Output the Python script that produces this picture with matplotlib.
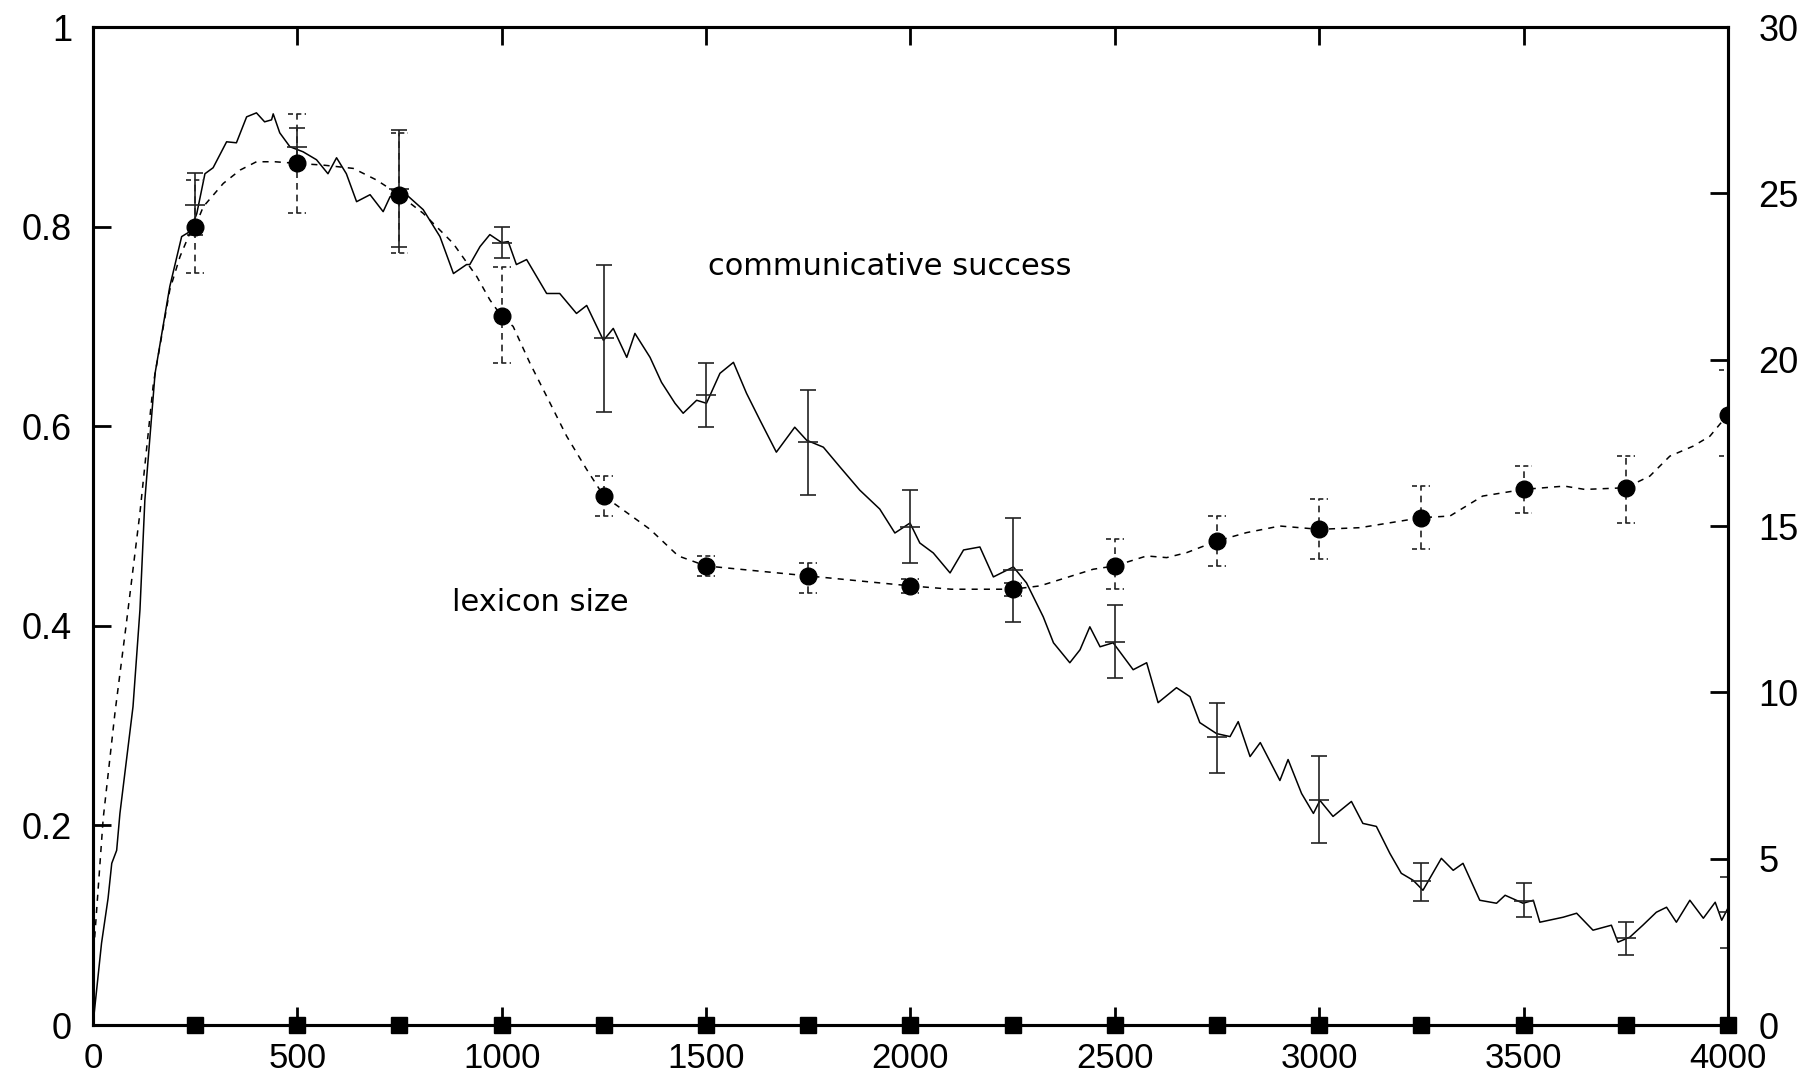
import numpy as np
import matplotlib
matplotlib.use("Agg")
import matplotlib.pyplot as plt

# communicative success (left axis)
cs_x = [0, 21, 37, 46, 58, 66, 98, 115, 127, 152, 188, 217, 237, 254, 274, 294, 327, 351,
        376, 400, 420, 437, 441, 457, 482, 514, 547, 575, 596, 620, 645, 678, 710, 727,
        767, 808, 849, 882, 914, 922, 947, 971, 1000, 1016, 1036, 1061, 1110, 1142, 1183,
        1208, 1249, 1273, 1306, 1326, 1363, 1391, 1424, 1444, 1477, 1501, 1534, 1567, 1599,
        1632, 1672, 1717, 1746, 1787, 1828, 1876, 1925, 1962, 1999, 2023, 2056, 2097, 2130,
        2170, 2203, 2252, 2284, 2325, 2350, 2390, 2415, 2439, 2464, 2496, 2545, 2578, 2606,
        2651, 2684, 2708, 2749, 2782, 2802, 2831, 2856, 2904, 2924, 2957, 2986, 3002, 3034,
        3079, 3107, 3140, 3173, 3201, 3230, 3254, 3299, 3328, 3352, 3393, 3434, 3455, 3499,
        3524, 3540, 3597, 3630, 3670, 3715, 3731, 3760, 3792, 3825, 3850, 3874, 3907, 3940,
        3969, 3985, 4000]
cs_y = [0.0, 0.082, 0.127, 0.162, 0.175, 0.212, 0.319, 0.416, 0.526, 0.653, 0.740, 0.790,
        0.795, 0.813, 0.853, 0.859, 0.885, 0.884, 0.910, 0.914, 0.905, 0.907, 0.913, 0.894,
        0.880, 0.875, 0.867, 0.853, 0.869, 0.853, 0.825, 0.832, 0.815, 0.830, 0.832, 0.817,
        0.790, 0.753, 0.762, 0.762, 0.780, 0.792, 0.784, 0.785, 0.762, 0.767, 0.733, 0.733,
        0.713, 0.721, 0.686, 0.698, 0.669, 0.693, 0.669, 0.644, 0.623, 0.613, 0.626, 0.623,
        0.653, 0.664, 0.633, 0.606, 0.574, 0.599, 0.586, 0.579, 0.559, 0.536, 0.517, 0.493,
        0.503, 0.483, 0.473, 0.453, 0.476, 0.479, 0.449, 0.459, 0.443, 0.409, 0.383, 0.363,
        0.376, 0.399, 0.379, 0.383, 0.356, 0.363, 0.323, 0.338, 0.329, 0.303, 0.292, 0.289,
        0.304, 0.269, 0.283, 0.245, 0.266, 0.232, 0.212, 0.225, 0.209, 0.224, 0.202, 0.199,
        0.172, 0.152, 0.145, 0.135, 0.167, 0.155, 0.162, 0.125, 0.122, 0.130, 0.122, 0.125,
        0.103, 0.108, 0.112, 0.095, 0.100, 0.083, 0.088, 0.100, 0.113, 0.118, 0.103, 0.125,
        0.107, 0.123, 0.105, 0.117]

# lexicon size (right axis), dashed curve
lex_x = [0, 25, 54, 82, 115, 148, 188, 213, 237, 250, 270, 319, 360, 400, 445, 500, 563, 637,
         694, 750, 808, 881, 939, 971, 1000, 1028, 1069, 1110, 1159, 1208, 1250, 1363, 1432,
         1500, 1625, 1750, 1875, 2000, 2100, 2250, 2317, 2382, 2447, 2500, 2578, 2627, 2676,
         2750, 2822, 2904, 3000, 3100, 3250, 3320, 3400, 3500, 3600, 3650, 3750, 3809, 3858,
         3915, 3956, 4000]
lex_y = [1.9, 6.2, 9.4, 12.1, 15.4, 19.3, 22.1, 23.1, 23.8, 24.0, 24.6, 25.3, 25.7, 25.95,
         25.95, 25.9, 25.85, 25.75, 25.4, 24.95, 24.4, 23.5, 22.5, 21.8, 21.3, 21.0, 19.9,
         18.9, 17.7, 16.7, 15.9, 14.9, 14.1, 13.8, 13.65, 13.5, 13.35, 13.2, 13.1, 13.1, 13.2,
         13.45, 13.7, 13.8, 14.1, 14.05, 14.2, 14.55, 14.8, 15.0, 14.9, 14.95, 15.25, 15.3,
         15.9, 16.1, 16.2, 16.1, 16.15, 16.5, 17.1, 17.4, 17.7, 18.35]

# sampled points every 250 games
steps = np.arange(250, 4001, 250)
lex_mean = [24.0, 25.9, 24.95, 21.3, 15.9, 13.8, 13.5, 13.2, 13.1, 13.8, 14.55, 14.9, 15.25,
            16.1, 16.15, 18.35]
lex_lo = [22.6, 24.4, 23.2, 19.9, 15.3, 13.5, 13.0, 13.0, 12.9, 13.1, 13.8, 14.0, 14.3,
          15.4, 15.1, 17.1]
lex_hi = [25.4, 27.4, 26.8, 22.8, 16.5, 14.1, 13.9, 13.4, 13.3, 14.6, 15.3, 15.8, 16.2,
          16.8, 17.1, 19.7]
cs_mean = [0.822, 0.880, 0.838, 0.784, 0.688, 0.631, 0.584, 0.499, 0.456, 0.384, 0.289,
           0.225, 0.144, 0.124, 0.087, 0.113]
cs_lo = [0.792, 0.864, 0.780, 0.769, 0.614, 0.599, 0.531, 0.463, 0.404, 0.348, 0.253,
         0.182, 0.124, 0.108, 0.070, 0.077]
cs_hi = [0.854, 0.899, 0.897, 0.800, 0.762, 0.663, 0.636, 0.536, 0.508, 0.421, 0.323,
         0.270, 0.162, 0.142, 0.103, 0.148]
third = [0] * 16

lex_mean = np.array(lex_mean)
cs_mean = np.array(cs_mean)

fig = plt.figure(figsize=(18.19, 10.81), dpi=100)
ax = fig.add_axes([0.0511, 0.0518, 0.8988, 0.9232])
ax2 = ax.twinx()

# communicative success
ax.plot(cs_x, cs_y, "-", color="black", lw=1.1)
ax.errorbar(steps, cs_mean, yerr=[cs_mean - np.array(cs_lo), np.array(cs_hi) - cs_mean],
            fmt="_", ms=15, mew=1.2, capsize=5.5, capthick=1.2, elinewidth=1.2,
            color="#222222")
ax.plot(steps, third, "s", ms=11, color="black", clip_on=False, zorder=10)

# lexicon size
ax2.plot(lex_x, lex_y, color="black", lw=1.1, ls=(0, (4, 4)))
ax2.vlines(steps, lex_lo, lex_hi, colors="#222222", lw=1.2, linestyles=(0, (4, 3)))
cap = 22
ax2.hlines(lex_lo, steps - cap, steps + cap, colors="#222222", lw=1.2, linestyles=(0, (3, 2)))
ax2.hlines(lex_hi, steps - cap, steps + cap, colors="#222222", lw=1.2, linestyles=(0, (3, 2)))
ax2.plot(steps, lex_mean, "o", ms=12, color="black", zorder=5)

ax.set_xlim(0, 4000)
ax.set_ylim(0, 1)
ax2.set_ylim(0, 30)
ax.set_xticks(np.arange(0, 4001, 500))
ax.set_yticks([0, 0.2, 0.4, 0.6, 0.8, 1.0])
ax.set_yticklabels(["0", "0.2", "0.4", "0.6", "0.8", "1"])
ax2.set_yticks(np.arange(0, 31, 5))

tick_font = "Liberation Sans"
ax.tick_params(direction="in", length=13, width=2, top=True, labelsize=25)
ax.tick_params(axis="y", pad=15, labelsize=26)
ax.tick_params(axis="x", pad=12)
ax2.tick_params(direction="in", length=13, width=2, labelsize=26, pad=22)
for lab in ax.get_xticklabels() + ax.get_yticklabels() + ax2.get_yticklabels():
    lab.set_fontfamily(tick_font)
for a in (ax, ax2):
    for s in a.spines.values():
        s.set_linewidth(2.2)

ax.text(1504, 0.760, "communicative success", fontsize=22, family="DejaVu Sans",
        va="center", ha="left")
ax.text(879, 0.423, "lexicon size", fontsize=22, family="DejaVu Sans",
        va="center", ha="left")

fig.savefig("out.png", dpi=100)
